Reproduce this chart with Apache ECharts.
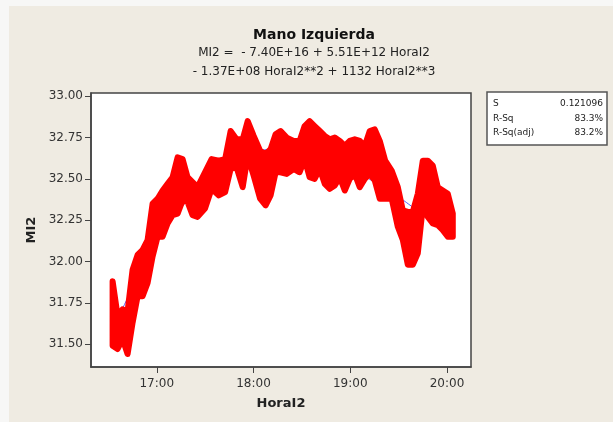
<!DOCTYPE html>
<html><head><meta charset="utf-8">
<script src="https://cdn.jsdelivr.net/npm/echarts@6/dist/echarts.min.js"></script>
<style>html,body{margin:0;padding:0;background:#f7f7f6;}#c{width:613px;height:422px;}</style>
</head><body><div id="c"></div>
<script>
// minutes after 16:00
const times = [32.6,35.7,38.8,41.9,45.0,48.1,51.2,54.3,57.4,60.5,
63.6,66.7,69.8,72.9,76.0,79.1,82.2,85.3,89.9,94.0,
98.4,102.4,105.8,109.5,113.3,116.4,120.1,124.1,127.5,130.6,
133.7,136.8,140.6,144.9,148.6,151.7,154.8,157.9,161.1,164.2,
167.3,170.4,173.5,176.6,179.7,182.8,185.9,189.0,192.1,195.2,
198.3,201.7,205.7,209.5,212.6,215.7,218.8,221.9,225.0,228.1,
231.2,234.3,237.4,240.5,243.6];
const upper = [31.88,31.67,31.71,31.70,31.95,32.04,32.07,32.13,32.35,32.38,
32.43,32.47,32.51,32.63,32.62,32.51,32.48,32.45,32.54,32.62,
32.61,32.62,32.79,32.74,32.74,32.85,32.76,32.67,32.65,32.68,
32.77,32.79,32.75,32.73,32.73,32.82,32.85,32.82,32.79,32.76,
32.74,32.75,32.73,32.70,32.73,32.74,32.73,32.70,32.79,32.80,
32.73,32.61,32.55,32.45,32.31,32.30,32.30,32.41,32.61,32.61,
32.58,32.45,32.43,32.41,32.29];
const lower = [31.49,31.47,31.53,31.44,31.63,31.79,31.79,31.87,32.03,32.15,
32.15,32.23,32.28,32.29,32.37,32.36,32.28,32.27,32.32,32.44,
32.40,32.42,32.56,32.57,32.45,32.64,32.52,32.38,32.34,32.40,
32.54,32.54,32.53,32.56,32.54,32.62,32.51,32.50,32.56,32.47,
32.44,32.46,32.51,32.43,32.50,32.53,32.45,32.50,32.53,32.49,
32.38,32.38,32.38,32.21,32.13,31.98,31.98,32.05,32.33,32.27,
32.23,32.22,32.19,32.15,32.15];
const fitTimes = [32,40,50,60,70,80,90,100,110,120,130,140,150,160,170,180,190,200,210,220,230,244];
const fitValues = [31.58,31.74,31.94,32.11,32.26,32.38,32.48,32.56,32.62,32.66,32.68,32.69,32.68,32.66,32.62,32.57,32.51,32.45,32.39,32.32,32.25,32.15];
const xTicks = [60,120,180,240];
const yTicks = [31.5,31.75,32.0,32.25,32.5,32.75,33.0];
const statLabels = ['S','R-Sq','R-Sq(adj)'];
const statValues = ['0.121096','83.3%','83.2%'];

const fit = fitTimes.map((t,i)=>[t, fitValues[i]]);

const FONT = 'DejaVu Sans';
const chart = echarts.init(document.getElementById('c'), null, {renderer:'canvas'});
const fmtTime = v => { const m = Math.round(v); const h = 16 + Math.floor(m/60); const mm = m%60; return h + ':' + (mm<10?'0':'') + mm; };

const statChildren = [{type:'rect', shape:{x:0,y:0,width:120,height:53}, style:{fill:'#fff', stroke:'#555', lineWidth:1.5}}];
statLabels.forEach((s,i)=>{
  statChildren.push({type:'text', x:6, y:12+i*14.5, style:{text:s, font:'9px '+FONT, fill:'#222', textVerticalAlign:'middle'}});
  statChildren.push({type:'text', x:116, y:12+i*14.5, style:{text:statValues[i], font:'9px '+FONT, fill:'#222', textAlign:'right', textVerticalAlign:'middle'}});
});

function renderBand(params, api){
  const pts = [];
  for (let i=0;i<times.length;i++) pts.push(api.coord([times[i], upper[i]]));
  for (let i=times.length-1;i>=0;i--) pts.push(api.coord([times[i], lower[i]]));
  return {type:'polygon', shape:{points:pts},
          style:{fill:'#ff0000', stroke:'#ff0000', lineWidth:6, lineJoin:'round'}};
}

chart.setOption({
  animation:false,
  backgroundColor:'transparent',
  graphic:[
    {type:'rect', z:-10, shape:{x:9,y:6,width:604,height:416}, style:{fill:'#efebe2'}},
    {type:'text', x:314, y:35, style:{text:'Mano Izquierda', font:'bold 14px '+FONT, fill:'#111', textAlign:'center', textVerticalAlign:'middle'}},
    {type:'text', x:314, y:53, style:{text:'MI2 =  - 7.40E+16 + 5.51E+12 HoraI2', font:'12px '+FONT, fill:'#222', textAlign:'center', textVerticalAlign:'middle'}},
    {type:'text', x:314, y:71.5, style:{text:'- 1.37E+08 HoraI2**2 + 1132 HoraI2**3', font:'12px '+FONT, fill:'#222', textAlign:'center', textVerticalAlign:'middle'}},
    {type:'group', x:487, y:92, children:statChildren}
  ],
  grid:{left:91, right:142, top:93, bottom:55, show:true, backgroundColor:'#fff', borderColor:'#444', borderWidth:1.5},
  xAxis:{
    type:'value', min:19.2, max:254.9,
    name:'HoraI2', nameLocation:'middle', nameGap:30,
    nameTextStyle:{fontFamily:FONT, fontWeight:'bold', fontSize:13, color:'#222'},
    axisLine:{show:true, lineStyle:{color:'#444', width:1.5}},
    axisTick:{show:true, length:6, customValues:xTicks, lineStyle:{color:'#444'}},
    axisLabel:{customValues:xTicks, formatter:fmtTime, fontFamily:FONT, fontSize:12, color:'#333', margin:11},
    splitLine:{show:false}
  },
  yAxis:{
    type:'value', min:31.361, max:33.02,
    name:'MI2', nameLocation:'middle', nameGap:53, nameRotate:90,
    nameTextStyle:{fontFamily:FONT, fontWeight:'bold', fontSize:13, color:'#222'},
    axisLine:{show:true, lineStyle:{color:'#444', width:1.5}},
    axisTick:{show:true, length:6, customValues:yTicks, lineStyle:{color:'#444'}},
    axisLabel:{customValues:yTicks, formatter:v=>v.toFixed(2), fontFamily:FONT, fontSize:12, color:'#333', margin:8},
    splitLine:{show:false}
  },
  series:[
    {type:'line', data:fit, smooth:true, showSymbol:false, z:1, lineStyle:{color:'#4f5cff', width:1}},
    {type:'custom', z:2, clip:true, data:[[times[0], upper[0]]], renderItem:renderBand}
  ]
});
</script></body></html>
